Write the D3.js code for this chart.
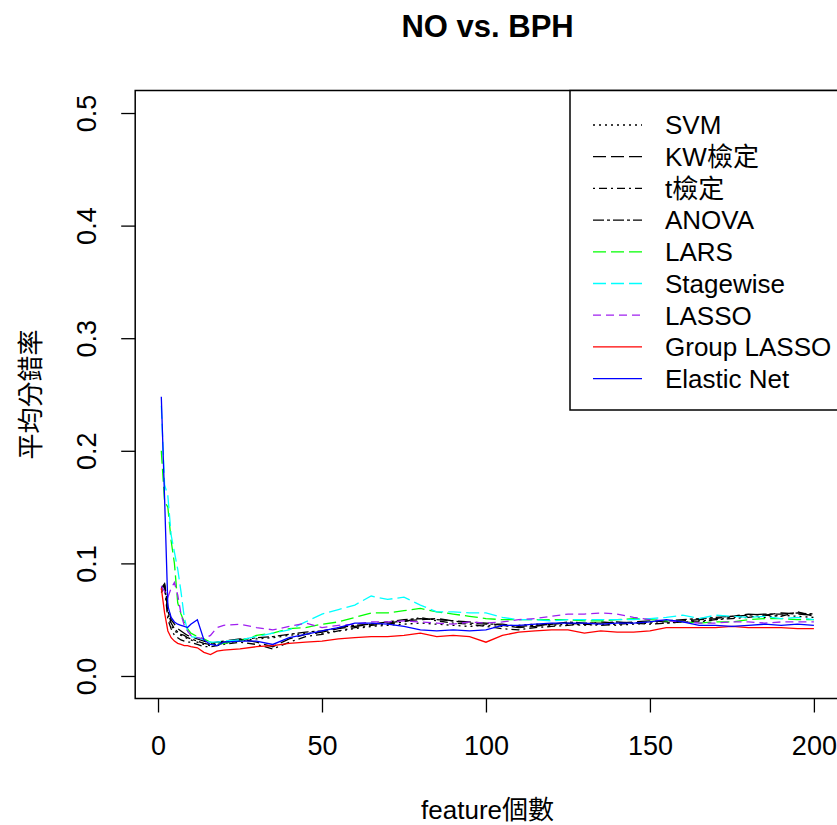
<!DOCTYPE html>
<html>
<head>
<meta charset="utf-8">
<script src="https://cdn.jsdelivr.net/npm/d3@7"></script>
<style>
  body { margin: 0; background: #fff; }
  text { font-family: "Liberation Sans", Arial, sans-serif; fill: #000; }
</style>
</head>
<body>
<script>
const width = 837;
const height = 825;

const featureCounts = [1, 2, 3, 4, 5, 6, 7, 8, 9, 10, 12, 14, 16, 18, 20,
    25, 30, 35, 40, 45, 50, 55, 60, 65, 70, 75, 80, 85, 90, 95, 100,
    105, 110, 115, 120, 125, 130, 135, 140, 145, 150, 155, 160, 165, 170,
    175, 180, 185, 190, 195, 200];

const methodNames = ['SVM', 'KW檢定', 't檢定', 'ANOVA', 'LARS', 'Stagewise', 'LASSO', 'Group LASSO', 'Elastic Net'];

const svmRates = [0.075, 0.080, 0.055, 0.045, 0.040, 0.038, 0.036, 0.035, 0.033, 0.032, 0.030, 0.028, 0.027, 0.028, 0.029,
    0.031, 0.033, 0.034, 0.036, 0.038, 0.038, 0.040, 0.042, 0.044, 0.045, 0.046, 0.047, 0.046, 0.045, 0.044, 0.045,
    0.044, 0.045, 0.046, 0.045, 0.046, 0.045, 0.046, 0.045, 0.046, 0.047, 0.047, 0.048, 0.049, 0.050,
    0.052, 0.053, 0.052, 0.054, 0.053, 0.052];
const kwRates = [0.078, 0.082, 0.062, 0.050, 0.046, 0.042, 0.040, 0.038, 0.036, 0.035, 0.033, 0.031, 0.029, 0.030, 0.031,
    0.033, 0.030, 0.026, 0.033, 0.037, 0.039, 0.042, 0.044, 0.046, 0.047, 0.049, 0.050, 0.051, 0.049, 0.048, 0.047,
    0.045, 0.043, 0.044, 0.046, 0.047, 0.046, 0.048, 0.047, 0.048, 0.049, 0.048, 0.049, 0.050, 0.051,
    0.053, 0.055, 0.054, 0.056, 0.055, 0.054];
const tRates = [0.074, 0.079, 0.050, 0.042, 0.036, 0.034, 0.032, 0.031, 0.030, 0.030, 0.028, 0.026, 0.026, 0.027, 0.028,
    0.030, 0.028, 0.024, 0.030, 0.035, 0.037, 0.040, 0.043, 0.045, 0.046, 0.048, 0.052, 0.049, 0.047, 0.046, 0.044,
    0.042, 0.041, 0.043, 0.044, 0.045, 0.046, 0.045, 0.046, 0.047, 0.046, 0.047, 0.048, 0.048, 0.050,
    0.051, 0.052, 0.054, 0.053, 0.057, 0.053];
const anovaRates = [0.076, 0.081, 0.058, 0.047, 0.042, 0.039, 0.037, 0.036, 0.034, 0.033, 0.031, 0.029, 0.028, 0.029, 0.030,
    0.032, 0.034, 0.035, 0.037, 0.039, 0.040, 0.043, 0.045, 0.046, 0.048, 0.050, 0.051, 0.050, 0.049, 0.047, 0.046,
    0.046, 0.044, 0.045, 0.046, 0.048, 0.047, 0.047, 0.048, 0.047, 0.048, 0.049, 0.050, 0.051, 0.052,
    0.053, 0.054, 0.055, 0.055, 0.056, 0.055];
const larsRates = [0.200, 0.155, 0.150, 0.120, 0.100, 0.065, 0.055, 0.048, 0.042, 0.038, 0.035, 0.033, 0.030, 0.028, 0.029,
    0.031, 0.036, 0.038, 0.042, 0.043, 0.046, 0.048, 0.052, 0.056, 0.056, 0.058, 0.060, 0.057, 0.055, 0.053, 0.051,
    0.050, 0.050, 0.050, 0.050, 0.050, 0.049, 0.049, 0.050, 0.051, 0.050, 0.049, 0.048, 0.047, 0.048,
    0.048, 0.050, 0.051, 0.051, 0.050, 0.050];
const stagewiseRates = [0.240, 0.170, 0.160, 0.125, 0.110, 0.095, 0.075, 0.052, 0.040, 0.035, 0.034, 0.032, 0.030, 0.030, 0.031,
    0.032, 0.035, 0.038, 0.041, 0.048, 0.055, 0.059, 0.063, 0.071, 0.068, 0.070, 0.063, 0.057, 0.057, 0.056, 0.056,
    0.052, 0.050, 0.050, 0.049, 0.050, 0.050, 0.050, 0.050, 0.050, 0.051, 0.052, 0.054, 0.051, 0.054,
    0.053, 0.052, 0.053, 0.051, 0.052, 0.050];
const lassoRates = [0.080, 0.075, 0.070, 0.078, 0.083, 0.072, 0.055, 0.045, 0.040, 0.036, 0.034, 0.033, 0.036, 0.043, 0.045,
    0.046, 0.043, 0.041, 0.044, 0.047, 0.043, 0.045, 0.046, 0.048, 0.048, 0.049, 0.048, 0.047, 0.046, 0.048, 0.047,
    0.048, 0.050, 0.051, 0.053, 0.055, 0.055, 0.056, 0.055, 0.052, 0.050, 0.049, 0.048, 0.047, 0.047,
    0.048, 0.048, 0.047, 0.048, 0.048, 0.048];
const groupLassoRates = [0.078, 0.056, 0.040, 0.034, 0.031, 0.029, 0.028, 0.027, 0.027, 0.026, 0.025, 0.021, 0.019, 0.022, 0.023,
    0.024, 0.026, 0.027, 0.029, 0.030, 0.031, 0.033, 0.034, 0.035, 0.035, 0.036, 0.038, 0.035, 0.036, 0.035, 0.030,
    0.036, 0.039, 0.040, 0.041, 0.041, 0.038, 0.040, 0.039, 0.039, 0.040, 0.043, 0.043, 0.043, 0.043,
    0.044, 0.043, 0.043, 0.043, 0.042, 0.042];
const elasticNetRates = [0.248, 0.158, 0.062, 0.052, 0.048, 0.046, 0.045, 0.044, 0.043, 0.046, 0.050, 0.032, 0.028, 0.027, 0.030,
    0.031, 0.031, 0.028, 0.034, 0.037, 0.040, 0.043, 0.047, 0.047, 0.046, 0.044, 0.041, 0.040, 0.041, 0.040, 0.041,
    0.045, 0.045, 0.046, 0.047, 0.047, 0.047, 0.046, 0.047, 0.047, 0.048, 0.050, 0.048, 0.045, 0.045,
    0.044, 0.045, 0.046, 0.045, 0.046, 0.045];

const xTicks = [0, 50, 100, 150, 200];
const yTicks = [0.0, 0.1, 0.2, 0.3, 0.4, 0.5];

const allRates = [svmRates, kwRates, tRates, anovaRates, larsRates, stagewiseRates, lassoRates, groupLassoRates, elasticNetRates];
const colors = ['#000000', '#000000', '#000000', '#000000', '#00ff00', '#00ffff', '#a020f0', '#ff0000', '#0000ff'];
const dashes = ['2,4', '13,5', '2,4,8,4', '11,3,3,3', '13,5', '13,5', '8,5', null, null];

const series = methodNames.map((name, i) => ({
    name: name,
    color: colors[i],
    dash: dashes[i],
    values: featureCounts.map((x, j) => ({ x: x, y: allRates[i][j] }))
}));

// plot region, R style 4% padding on both axes
const xScale = d3.scaleLinear().domain([-6.96, 207.96]).range([135.2, 840]);
const yScale = d3.scaleLinear().domain([-0.02, 0.52]).range([698.5, 90.5]);
const box = { left: 135.2, right: 840, top: 90.5, bottom: 698.5 };

const svg = d3.select('body')
    .append('svg')
    .attr('width', width)
    .attr('height', height);

svg.append('rect')
    .attr('width', width)
    .attr('height', height)
    .attr('fill', '#fff');

// lines
const line = d3.line()
    .x(d => xScale(d.x))
    .y(d => yScale(d.y));

svg.append('g')
    .selectAll('path')
    .data(series)
    .enter()
    .append('path')
    .attr('d', d => line(d.values))
    .attr('fill', 'none')
    .attr('stroke', d => d.color)
    .attr('stroke-width', 1.3)
    .attr('stroke-dasharray', d => d.dash);

// box
svg.append('rect')
    .attr('x', box.left)
    .attr('y', box.top)
    .attr('width', box.right - box.left)
    .attr('height', box.bottom - box.top)
    .attr('fill', 'none')
    .attr('stroke', '#000')
    .attr('stroke-width', 1.5);

// axes
const xAxis = d3.axisBottom(xScale).tickValues(xTicks).tickSize(14).tickPadding(23);
const xg = svg.append('g')
    .attr('transform', `translate(0, ${box.bottom})`)
    .call(xAxis);
xg.select('.domain').remove();
xg.selectAll('line').attr('stroke', '#000').attr('stroke-width', 1.3);
xg.selectAll('text')
    .style('font-size', '27px')
    .style('font-family', '"Liberation Sans", Arial, sans-serif')
    .attr('fill', '#000');

const yAxis = d3.axisLeft(yScale).tickValues(yTicks).tickSize(14).tickFormat(d3.format('.1f'));
const yg = svg.append('g')
    .attr('transform', `translate(${box.left}, 0)`)
    .call(yAxis);
yg.select('.domain').remove();
yg.selectAll('line').attr('stroke', '#000').attr('stroke-width', 1.3);
yg.selectAll('text')
    .attr('x', 0)
    .attr('y', -39)
    .attr('dy', null)
    .attr('text-anchor', 'middle')
    .attr('transform', 'rotate(-90)')
    .style('font-size', '27px')
    .style('font-family', '"Liberation Sans", Arial, sans-serif')
    .attr('fill', '#000');

// title and axis titles
svg.append('text')
    .attr('x', (box.left + box.right) / 2)
    .attr('y', 37)
    .attr('text-anchor', 'middle')
    .style('font-size', '31px')
    .style('font-weight', 'bold')
    .text('NO vs. BPH');

svg.append('text')
    .attr('x', (box.left + box.right) / 2)
    .attr('y', 819)
    .attr('text-anchor', 'middle')
    .style('font-size', '26px')
    .style('font-family', '"Liberation Sans", "Noto Sans CJK TC", sans-serif')
    .text('feature個數');

svg.append('text')
    .attr('transform', `translate(31, ${(box.top + box.bottom) / 2}) rotate(-90)`)
    .attr('text-anchor', 'middle')
    .attr('dy', '0.35em')
    .style('font-size', '26px')
    .style('font-family', '"Noto Sans CJK TC", sans-serif')
    .text('平均分錯率');

// legend
const legend = svg.append('g');
legend.append('rect')
    .attr('x', 570)
    .attr('y', box.top)
    .attr('width', box.right - 570)
    .attr('height', 410 - box.top)
    .attr('fill', '#fff')
    .attr('stroke', '#000')
    .attr('stroke-width', 1.5);

const rows = legend.selectAll('g.row')
    .data(series)
    .enter()
    .append('g')
    .attr('class', 'row')
    .attr('transform', (d, i) => `translate(0, ${125 + i * 31.7})`);

rows.append('line')
    .attr('x1', 593)
    .attr('x2', 642)
    .attr('stroke', d => d.color)
    .attr('stroke-width', 1.3)
    .attr('stroke-dasharray', d => d.dash);

rows.append('text')
    .attr('x', 665)
    .attr('dy', '0.36em')
    .style('font-size', '26px')
    .style('font-family', '"Liberation Sans", "Noto Sans CJK TC", sans-serif')
    .text(d => d.name);
</script>
</body>
</html>
